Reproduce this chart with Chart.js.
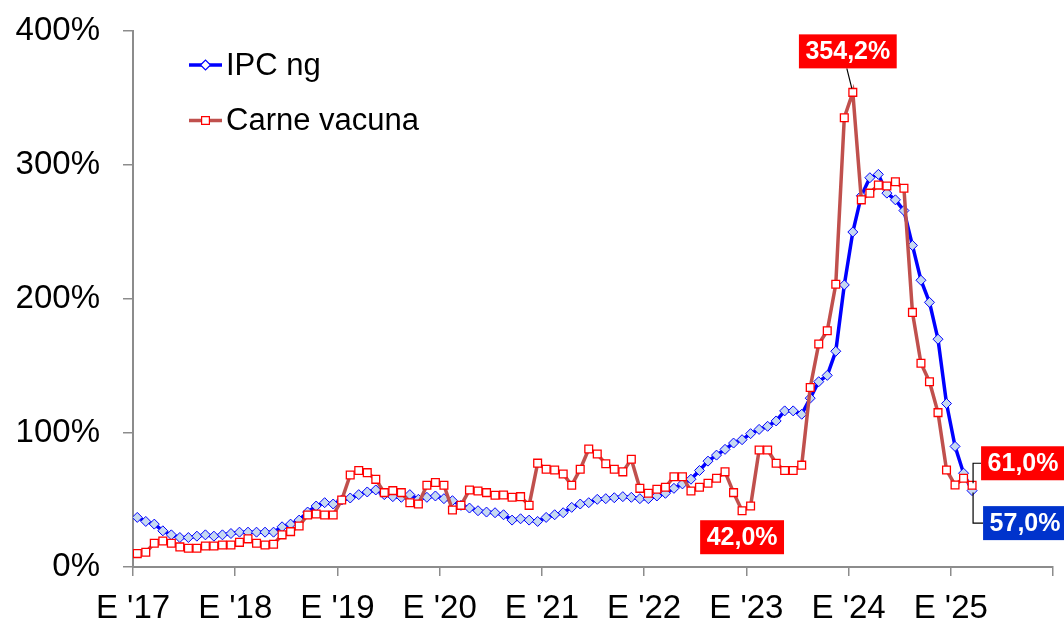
<!DOCTYPE html>
<html>
<head>
<meta charset="utf-8">
<script src="https://cdn.jsdelivr.net/npm/chart.js@4.4.1/dist/chart.umd.min.js"></script>
<style>
html,body{margin:0;padding:0;background:#fff;}
#wrap{width:1064px;height:624px;}
</style>
</head>
<body>
<div id="wrap"><canvas id="grafico" width="1064" height="624"></canvas></div>
<script>
// etiquetas del eje X (enero de cada año)
const yearLabels = ["E '17", "E '18", "E '19", "E '20", "E '21", "E '22", "E '23", "E '24", "E '25"];

// variacion interanual mensual, ene-17 a mar-25
const ipcNg = [
  37, 34, 32, 27, 24, 22, 22, 23, 24, 23, 24, 25,
  26, 26, 26, 26, 26, 30, 32, 35, 41, 45.5, 48, 47,
  50, 51.5, 54, 56, 57.5, 54, 52.5, 52, 54, 50.5, 52, 53,
  51, 49.5, 46, 44, 42, 41, 40.5, 39, 35, 36, 35, 34,
  37, 39, 40.5, 44.5, 47, 48, 50.5, 51, 51.7, 52.5, 52, 51,
  51, 53, 55, 58.7, 62, 65.5, 72, 79, 83.5, 87.8, 92.5, 95,
  99.5, 102.7, 105, 109, 116.5, 116.5, 114, 126, 138.3, 143, 161, 210.5,
  250, 277, 290.5, 293, 279, 274, 266, 240, 214, 197.5, 170, 122,
  90, 70, 57
];
const carneVacuna = [
  10, 11, 17.7, 19.4, 17.7, 15, 14, 14, 15.7, 15.7, 16.4, 16.4,
  18.4, 21, 17.7, 16.4, 17, 24, 26.4, 30.6, 38.8, 39.5, 38.8, 38.8,
  50, 68.7, 72, 70.4, 65.4, 55.5, 57, 55.5, 48, 47, 61, 63,
  61, 42.5, 46, 57.5, 56.7, 55.5, 53.5, 53.7, 52, 52.5, 46, 77.5,
  73, 72.4, 69.4, 61, 73, 88, 84.3, 77, 73, 71, 80.4, 58.7,
  55, 58, 59.5, 67.4, 67.4, 56.7, 59.5, 62.5, 66.2, 71, 55.5, 42,
  45.5, 87.3, 87.3, 77.4, 72, 72, 76, 134, 166.4, 176.3, 211, 335.3,
  354.2, 274, 279, 285, 284.3, 287.5, 282.6, 190, 152, 138.3, 115.2, 72.4,
  61.2, 66.2, 61
];

const FUENTE = '"Liberation Sans", Arial, sans-serif';

// puntos centrados en cada mes
const aPuntos = arr => arr.map((v, i) => ({ x: i + 0.5, y: v }));

// cajas de valores destacados
const etiquetas = [
  { serie: 1, idx: 84, fondo: '#ff0000', pos: 'arriba' },
  { serie: 1, idx: 71, fondo: '#ff0000', pos: 'abajo' },
  { serie: 1, idx: 98, fondo: '#ff0000', pos: 'derArriba' },
  { serie: 0, idx: 98, fondo: '#0033cc', pos: 'derAbajo' }
];

const pluginEtiquetas = {
  id: 'etiquetas',
  afterDatasetsDraw(chart) {
    const ctx = chart.ctx;
    ctx.save();
    ctx.font = 'bold 25px ' + FUENTE;
    etiquetas.forEach(e => {
      const pt = chart.getDatasetMeta(e.serie).data[e.idx];
      const valor = chart.data.datasets[e.serie].data[e.idx].y;
      const txt = valor.toFixed(1).replace('.', ',') + '%';
      const w = ctx.measureText(txt).width + 13, h = 34;
      let bx, by;
      ctx.strokeStyle = '#000'; ctx.lineWidth = 1.2;
      ctx.beginPath();
      if (e.pos === 'arriba') {
        bx = pt.x - 5 - w / 2; by = pt.y - 58;
        ctx.moveTo(pt.x - 6, by + h); ctx.lineTo(pt.x - 1, pt.y - 4);
      } else if (e.pos === 'abajo') {
        bx = pt.x - w / 2; by = pt.y + 9.5;
      } else if (e.pos === 'derArriba') {
        bx = pt.x + 9; by = pt.y - 39;
        ctx.moveTo(pt.x + 1, pt.y - 2); ctx.lineTo(pt.x + 1, by + h / 2); ctx.lineTo(bx, by + h / 2);
      } else {
        bx = pt.x + 11; by = pt.y + 15.5;
        ctx.moveTo(pt.x + 1, pt.y + 2); ctx.lineTo(pt.x + 1, by + h / 2); ctx.lineTo(bx, by + h / 2);
      }
      ctx.stroke();
      ctx.fillStyle = e.fondo;
      ctx.fillRect(bx, by, w, h);
      ctx.fillStyle = '#fff';
      ctx.textAlign = 'center'; ctx.textBaseline = 'middle';
      ctx.fillText(txt, bx + w / 2, by + h / 2 + 1);
    });
    ctx.restore();
  }
};

// leyenda dentro del grafico, arriba a la izquierda
const pluginLeyenda = {
  id: 'leyenda',
  afterDraw(chart) {
    const ctx = chart.ctx;
    ctx.save();
    chart.data.datasets.forEach((ds, i) => {
      const y = 65 + 55.5 * i;
      ctx.strokeStyle = ds.borderColor; ctx.lineWidth = 3.5;
      ctx.beginPath(); ctx.moveTo(189, y); ctx.lineTo(222, y); ctx.stroke();
      ctx.fillStyle = '#fff'; ctx.strokeStyle = ds.pointBorderColor; ctx.lineWidth = 1.2;
      Chart.helpers.drawPoint(ctx, { pointStyle: ds.pointStyle, radius: ds.pointRadius, rotation: 0, borderWidth: 1.2 }, 205.5, y);
      ctx.fillStyle = '#000';
      ctx.font = '31px ' + FUENTE;
      ctx.textAlign = 'left'; ctx.textBaseline = 'middle';
      ctx.fillText(ds.label, 226, y + 1);
    });
    ctx.restore();
  }
};

new Chart(document.getElementById('grafico'), {
  type: 'line',
  data: {
    datasets: [
      { label: 'IPC ng', data: aPuntos(ipcNg), borderColor: '#0000ff', borderWidth: 3.5,
        pointStyle: 'rectRot', pointRadius: 5, pointBackgroundColor: '#c6d9f1',
        pointBorderColor: '#0000ff', pointBorderWidth: 1, order: 1 },
      { label: 'Carne vacuna', data: aPuntos(carneVacuna), borderColor: '#c0504d', borderWidth: 3.5,
        pointStyle: 'rect', pointRadius: 5.5, pointBackgroundColor: '#ffffff',
        pointBorderColor: '#ff0000', pointBorderWidth: 1.3, order: 0 }
    ]
  },
  options: {
    responsive: false, animation: false, devicePixelRatio: 1,
    layout: { padding: { left: 0, top: 31, right: 11, bottom: 0 } },
    plugins: { legend: { display: false }, tooltip: { enabled: false } },
    scales: {
      x: {
        type: 'linear', min: 0, max: 108,
        afterFit: s => { s.height = 57; s.paddingLeft = 0; s.paddingRight = 0; },
        grid: { drawOnChartArea: false, tickLength: 9, color: '#8c8c8c', lineWidth: 1.5 },
        border: { color: '#8c8c8c', width: 2 },
        ticks: { stepSize: 12, autoSkip: false, maxRotation: 0, padding: 13, color: '#000',
          font: { family: FUENTE, size: 33 },
          callback: v => yearLabels[v / 12] || '' }
      },
      y: {
        min: 0, max: 400,
        afterFit: s => { s.width = 133; s.paddingTop = 0; s.paddingBottom = 0; },
        grid: { drawOnChartArea: false, tickLength: 10, color: '#8c8c8c', lineWidth: 1.5 },
        border: { color: '#8c8c8c', width: 2 },
        ticks: { stepSize: 100, padding: 23, color: '#000',
          font: { family: FUENTE, size: 33 },
          callback: v => v + '%' }
      }
    }
  },
  plugins: [pluginEtiquetas, pluginLeyenda]
});
</script>
</body>
</html>
